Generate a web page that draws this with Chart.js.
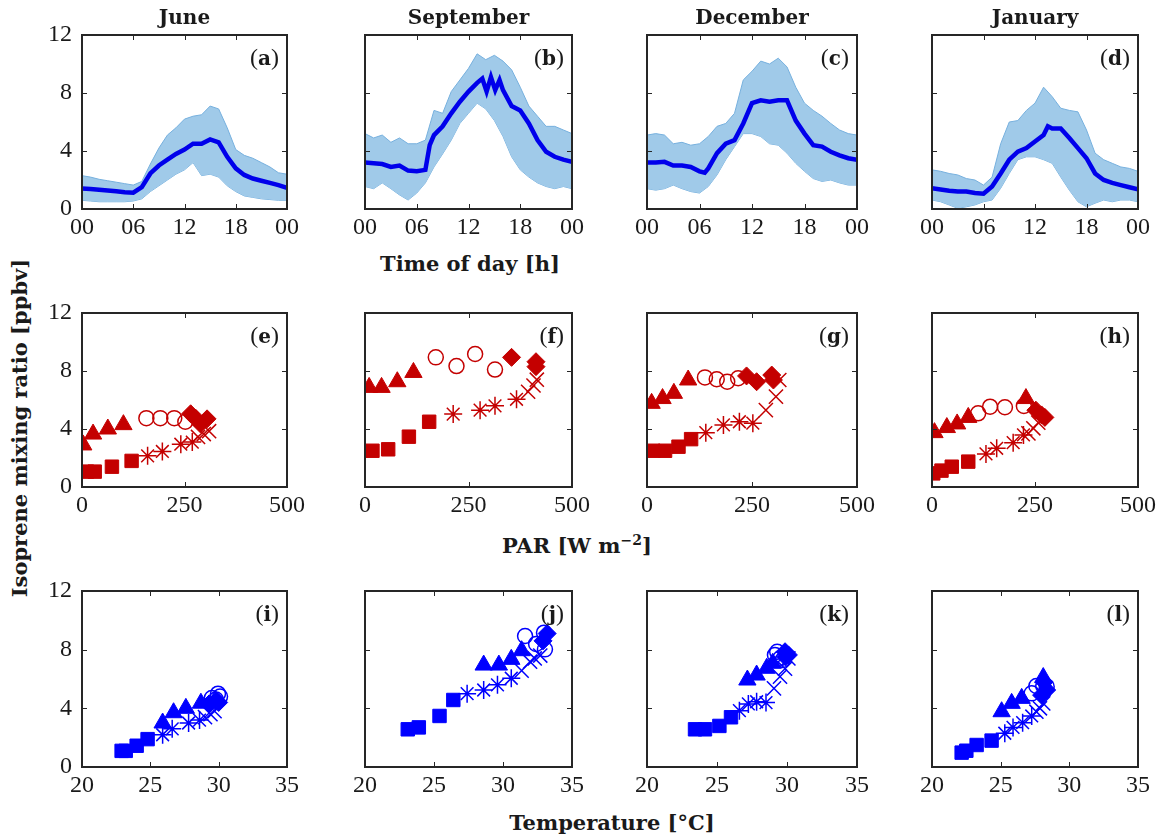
<!DOCTYPE html>
<html><head><meta charset="utf-8">
<script src="https://cdn.jsdelivr.net/npm/chart.js@4.4.0/dist/chart.umd.min.js"></script>
<style>
html,body{margin:0;padding:0;background:#fff;}
body{width:1166px;height:839px;position:relative;overflow:hidden;font-family:"Liberation Serif",serif;color:#1a1a1a;}
.pc{position:absolute;}
.t{position:absolute;white-space:nowrap;transform:translate(-50%,-50%);}
.bold{font-family:"DejaVu Serif",serif;font-weight:bold;font-size:20px;}
.big{font-size:21px;}
.lab{position:absolute;white-space:nowrap;font-size:24px;transform:translate(-100%,-50%);font-family:"Liberation Serif",serif;}
.lab b{font-family:"DejaVu Serif",serif;font-size:20px;}
.rot{transform:translate(-50%,-50%) rotate(-90deg);}
sup{font-size:14px;}
</style></head><body>
<script>
// ---------- tick values and labels ----------
const months = ['June','September','December','January'];
const panelLetters = ['a','b','c','d','e','f','g','h','i','j','k','l'];
const timeTicks = [0,6,12,18,24];
const timeTickLabels = ['00','06','12','18','00'];
const parTicks = [0,250,500];
const parTickLabels = ['0','250','500'];
const tempTicks = [20,25,30,35];
const tempTickLabels = ['20','25','30','35'];
const isoTicks = [0,4,8,12];
const isoTickLabels = ['0','4','8','12'];

// ---------- row 1: diurnal cycle (hours) ----------
const hours = [0,1,2,3,4,5,6,7,8,9,10,11,12,13,14,15,16,17,18,19,20,21,22,23,24];

const juneMeanHours = hours;
const juneMean  = [1.42,1.38,1.33,1.28,1.22,1.16,1.12,1.5,2.45,3.0,3.4,3.8,4.1,4.5,4.5,4.8,4.6,3.6,2.8,2.35,2.1,1.95,1.8,1.65,1.46];
const juneUpper = [2.3,2.2,2.05,1.95,1.85,1.75,1.65,1.9,3.1,4.2,5.1,5.6,6.2,6.4,6.5,7.1,6.9,5.6,4.1,3.7,3.5,3.2,2.9,2.5,2.4];
const juneLower = [0.6,0.55,0.5,0.5,0.5,0.5,0.55,0.7,1.2,1.6,2.0,2.4,2.7,3.2,2.3,2.4,2.2,1.6,1.2,0.9,0.8,0.7,0.65,0.6,0.6];

const sepMeanHours = [0,1,2,3,4,5,6,7,7.5,8,9,10,11,12,13,13.6,14.1,14.6,15.1,15.6,16,17,18,19,20,21,22,23,24];
const sepMean  = [3.2,3.15,3.1,2.9,3.0,2.65,2.6,2.7,4.4,5.1,5.7,6.6,7.4,8.1,8.7,9.0,8.1,9.1,8.2,8.9,8.2,7.1,6.8,5.9,4.75,3.95,3.6,3.4,3.26];
const sepUpper = [5.2,4.9,5.1,4.6,4.9,4.5,4.5,4.75,6.8,6.6,8.1,8.9,9.7,10.7,10.3,10.6,10.2,9.6,8.4,7.1,6.4,5.7,5.7,5.45,5.2];
const sepLower = [1.55,1.4,1.8,1.4,0.97,0.62,1.1,1.8,2.9,3.8,4.75,5.9,6.6,7.3,6.9,6.1,5.0,3.6,2.7,2.2,1.8,1.55,1.4,1.55,1.4];

const decMeanHours = [0,1,2,3,4,5,6,6.6,7,8,9,10,11,12,13,14,15,16,17,18,19,20,21,22,23,24];
const decMean  = [3.2,3.2,3.25,3.0,3.0,2.9,2.6,2.5,2.8,3.85,4.5,4.75,5.9,7.3,7.5,7.4,7.5,7.5,6.1,5.2,4.4,4.3,3.95,3.7,3.5,3.4];
const decUpper = [5.1,5.2,5.1,4.5,4.6,4.4,4.5,5.0,5.7,5.9,6.6,8.9,9.5,10.2,10.0,10.4,9.8,8.4,7.3,6.8,6.4,5.9,5.45,5.2,5.1];
const decLower = [1.4,1.3,1.4,1.65,1.4,1.2,1.1,1.55,2.35,3.4,4.3,5.2,5.2,5.0,4.5,4.4,3.85,3.15,2.6,2.1,1.9,2.0,1.8,1.65,1.65];

const janMeanHours = [0,1,2,3,4,5,6,7,8,9,10,11,12,13,13.5,14,15,16,17,18,19,20,21,22,23,24];
const janMean  = [1.43,1.35,1.26,1.2,1.2,1.1,1.05,1.55,2.45,3.4,3.95,4.2,4.65,5.1,5.7,5.55,5.55,4.9,4.2,3.5,2.45,2.0,1.8,1.65,1.5,1.36];
const janUpper = [2.7,2.6,2.45,2.35,2.1,2.0,1.65,2.2,4.5,6.0,6.1,6.8,7.3,8.4,7.75,6.95,6.8,6.7,5.45,3.85,3.4,3.15,2.9,2.8,2.6];
const janLower = [0.62,0.5,0.28,0.05,0.15,0.28,0.5,0.62,1.43,2.45,3.4,3.6,3.6,3.4,3.15,2.2,1.3,0.5,0.15,0.4,0.62,0.5,0.62,0.62,0.5];

// ---------- row 2: PAR vs isoprene, [PAR, ppbv] ----------
const juneParSquares   = [[12,1.06],[31,1.06],[73,1.4],[121,1.8]];
const juneParAsterisks = [[160,2.15],[196,2.45],[241,2.95],[269,3.1]];
const juneParCrosses   = [[283,3.45],[297,3.65],[310,3.85]];
const juneParDiamonds  = [[265,5.05],[277,4.75],[305,4.7],[289,4.35]];
const juneParCircles   = [[157,4.75],[191,4.75],[225,4.75],[252,4.5]];
const juneParTriangles = [[3,2.9],[27,3.65],[63,4.0],[101,4.3]];

const sepParSquares   = [[18,2.5],[56,2.6],[106,3.47],[155,4.5]];
const sepParAsterisks = [[213,5.03],[278,5.3],[314,5.6],[366,6.05]];
const sepParCrosses   = [[394,6.57],[407,7.0],[415,7.4]];
const sepParDiamonds  = [[354,8.94],[413,8.64],[413,8.3]];
const sepParCircles   = [[171,8.94],[221,8.34],[266,9.17],[314,8.1]];
const sepParTriangles = [[10,6.87],[40,6.87],[78,7.26],[117,7.9]];

const decParSquares   = [[15,2.5],[43,2.5],[75,2.78],[105,3.3]];
const decParAsterisks = [[140,3.75],[182,4.28],[220,4.5],[252,4.4]];
const decParCrosses   = [[283,5.3],[307,6.23],[315,7.38]];
const decParDiamonds  = [[237,7.66],[261,7.26],[297,7.72],[301,7.38]];
const decParCircles   = [[138,7.56],[166,7.43],[191,7.26],[217,7.5]];
const decParTriangles = [[11,5.77],[37,6.1],[64,6.46],[98,7.38]];

const janParSquares   = [[3,0.94],[23,1.13],[48,1.4],[88,1.75]];
const janParAsterisks = [[131,2.28],[157,2.67],[197,3.06],[222,3.59]];
const janParCrosses   = [[234,3.7],[246,4.05],[258,4.44]];
const janParDiamonds  = [[252,5.3],[266,4.97],[274,4.8]];
const janParCircles   = [[112,5.08],[141,5.54],[177,5.5],[223,5.59]];
const janParTriangles = [[6,3.75],[36,4.1],[61,4.35],[88,4.8],[228,6.1]];

// ---------- row 3: temperature vs isoprene, [degC, ppbv] ----------
const juneTSquares   = [[22.9,1.1],[23.2,1.1],[24.0,1.45],[24.8,1.9]];
const juneTAsterisks = [[25.9,2.2],[26.6,2.6],[27.8,3.0],[28.6,3.2]];
const juneTCrosses   = [[29.0,3.4],[29.4,3.6],[29.7,3.8]];
const juneTDiamonds  = [[29.3,4.3],[29.8,4.5],[30.0,4.4]];
const juneTCircles   = [[29.5,4.7],[30.1,4.8],[29.95,5.0],[29.8,4.6]];
const juneTTriangles = [[25.9,3.0],[26.7,3.7],[27.6,4.0],[28.7,4.35]];

const sepTSquares   = [[23.1,2.57],[23.9,2.7],[25.4,3.48],[26.4,4.57]];
const sepTAsterisks = [[27.4,5.0],[28.6,5.25],[29.6,5.6],[30.6,6.05]];
const sepTCrosses   = [[31.35,6.57],[31.96,7.18],[32.3,7.4],[32.7,7.6]];
const sepTDiamonds  = [[33.2,9.1],[32.9,8.6]];
const sepTCircles   = [[31.6,8.93],[32.4,8.39],[32.97,9.16],[33.04,8.02]];
const sepTTriangles = [[28.6,6.95],[29.7,6.95],[30.6,7.34],[31.35,7.93]];

const decTSquares   = [[23.43,2.57],[24.14,2.57],[25.17,2.8],[26.0,3.39]];
const decTAsterisks = [[26.6,3.84],[27.24,4.3],[27.83,4.45],[28.5,4.39]];
const decTCrosses   = [[29.07,5.36],[29.5,6.16],[29.86,6.7],[30.1,7.4]];
const decTDiamonds  = [[29.86,7.86],[30.1,7.64],[29.9,7.5]];
const decTCircles   = [[29.14,7.64],[29.5,7.4],[29.7,7.3],[29.3,7.86]];
const decTTriangles = [[27.17,5.93],[27.83,6.27],[28.55,6.73],[28.98,7.07]];

const janTSquares   = [[22.16,0.98],[22.5,1.11],[23.25,1.5],[24.34,1.8]];
const janTAsterisks = [[25.3,2.3],[25.9,2.7],[26.6,3.02],[27.26,3.48]];
const janTCrosses   = [[27.6,3.77],[27.86,4.0],[28.1,4.34]];
const janTDiamonds  = [[28.16,5.8],[28.35,5.25],[27.98,4.9]];
const janTCircles   = [[27.26,5.02],[27.6,5.52],[28.1,5.52],[28.35,5.48]];
const janTTriangles = [[25.07,3.77],[25.8,4.34],[26.53,4.68],[28.1,6.1]];

// ---------- layout ----------
const colL = [82,365,647,932], colR = [287,572,857,1138];
const rowT = [35,313,591], rowB = [209,487,767];
const PADL = 50, PADT = 16, PADR = 24, PADB = 38;

const RED = 'rgb(196,0,0)', BLUE = 'rgb(0,0,255)';

const framePlugin = {
  id: 'frame',
  afterDatasetsDraw(chart, args, opts) {
    const {ctx, chartArea: a, scales: {x, y}} = chart;
    ctx.save();
    ctx.strokeStyle = '#262626';
    ctx.lineWidth = 1;
    ctx.beginPath();
    const tl = 5;
    for (const v of opts.xt) { const p = Math.round(x.getPixelForValue(v)) + 0.5;
      ctx.moveTo(p, a.bottom); ctx.lineTo(p, a.bottom - tl); ctx.moveTo(p, a.top); ctx.lineTo(p, a.top + tl); }
    for (const v of opts.yt) { const p = Math.round(y.getPixelForValue(v)) + 0.5;
      ctx.moveTo(a.left, p); ctx.lineTo(a.left + tl, p); ctx.moveTo(a.right, p); ctx.lineTo(a.right - tl, p); }
    ctx.stroke();
    ctx.lineWidth = 2;
    ctx.strokeRect(a.left, a.top, a.width, a.height);
    ctx.restore();
  }
};

function toPts(xs, ys) { return xs.map((x, i) => ({x: x, y: ys[i]})); }
function pairPts(arr) { return arr.map(p => ({x: p[0], y: p[1]})); }

function addText(html, x, y, cls) {
  const d = document.createElement('div');
  d.className = cls; d.innerHTML = html;
  d.style.left = x + 'px'; d.style.top = y + 'px';
  document.body.appendChild(d);
}

function makeChart(r, c, type, datasets, xmin, xmax, xt, xl) {
  const L = colL[c], R = colR[c], T = rowT[r], B = rowB[r];
  const w = R - L + PADL + PADR, h = B - T + PADT + PADB;
  const cv = document.createElement('canvas');
  cv.className = 'pc';
  cv.width = w; cv.height = h;
  cv.style.left = (L - PADL) + 'px'; cv.style.top = (T - PADT) + 'px';
  cv.style.width = w + 'px'; cv.style.height = h + 'px';
  document.body.appendChild(cv);
  const font = {family: '"Liberation Serif", serif', size: 24};
  new Chart(cv, {
    type: type,
    data: {datasets: datasets},
    options: {
      responsive: false, animation: false, devicePixelRatio: 1,
      layout: {padding: {left: 0, top: PADT, right: PADR, bottom: 0}},
      plugins: {legend: {display: false}, tooltip: {enabled: false}, frame: {xt: xt, yt: isoTicks}},
      scales: {
        x: {type: 'linear', min: xmin, max: xmax,
          afterBuildTicks(s) { s.ticks = xt.map(v => ({value: v})); },
          afterFit(s) { s.height = PADB; s.paddingLeft = 0; s.paddingRight = 0; },
          grid: {display: false, drawTicks: false}, border: {display: false},
          ticks: {color: '#1a1a1a', font: font, padding: 4, maxRotation: 0, autoSkip: false,
            callback: (v, i) => xl[i]}},
        y: {type: 'linear', min: 0, max: 12,
          afterBuildTicks(s) { s.ticks = isoTicks.map(v => ({value: v})); },
          afterFit(s) { s.width = PADL; s.paddingTop = 0; s.paddingBottom = 0; },
          grid: {display: false, drawTicks: false}, border: {display: false},
          ticks: {display: c === 0, color: '#1a1a1a', font: font, padding: 10, autoSkip: false,
            callback: (v, i) => isoTickLabels[i]}}
      }
    },
    plugins: [framePlugin]
  });
}

// Row 1
const diurnal = [
  [juneMeanHours, juneMean, juneUpper, juneLower],
  [sepMeanHours, sepMean, sepUpper, sepLower],
  [decMeanHours, decMean, decUpper, decLower],
  [janMeanHours, janMean, janUpper, janLower]
];
diurnal.forEach((d, c) => {
  const ds = [
    {data: toPts(d[0], d[1]), borderColor: 'rgb(0,0,235)', borderWidth: 4.5, pointRadius: 0, fill: false, tension: 0},
    {data: toPts(hours, d[2]), borderColor: 'rgb(118,176,222)', borderWidth: 1, pointRadius: 0, fill: '+1', backgroundColor: 'rgb(160,202,233)', tension: 0},
    {data: toPts(hours, d[3]), borderColor: 'rgb(118,176,222)', borderWidth: 1, pointRadius: 0, fill: false, tension: 0}
  ];
  makeChart(0, c, 'line', ds, 0, 24, timeTicks, timeTickLabels);
});

// Marker kinds (first listed is drawn on top)
function scatterSets(col, sq, ast, cr, dia, cir, tri) {
  const mk = (data, style, r, filled, bw) => ({
    data: pairPts(data), pointStyle: style, pointRadius: r, pointHoverRadius: r,
    pointBackgroundColor: filled ? col : 'rgba(0,0,0,0)', pointBorderColor: col,
    pointBorderWidth: bw, showLine: false
  });
  return [
    mk(dia, 'rectRot', 9, true, 1),
    mk(cir, 'circle', 7.5, false, 1.5),
    mk(tri, 'triangle', 10, true, 1),
    mk(cr, 'crossRot', 10, false, 1.5),
    mk(ast, 'star', 9, false, 1.5),
    mk(sq, 'rect', 9.5, true, 1)
  ];
}

const parSets = [
  [juneParSquares, juneParAsterisks, juneParCrosses, juneParDiamonds, juneParCircles, juneParTriangles],
  [sepParSquares, sepParAsterisks, sepParCrosses, sepParDiamonds, sepParCircles, sepParTriangles],
  [decParSquares, decParAsterisks, decParCrosses, decParDiamonds, decParCircles, decParTriangles],
  [janParSquares, janParAsterisks, janParCrosses, janParDiamonds, janParCircles, janParTriangles]
];
parSets.forEach((s, c) => makeChart(1, c, 'scatter', scatterSets(RED, ...s), 0, 500, parTicks, parTickLabels));

const tSets = [
  [juneTSquares, juneTAsterisks, juneTCrosses, juneTDiamonds, juneTCircles, juneTTriangles],
  [sepTSquares, sepTAsterisks, sepTCrosses, sepTDiamonds, sepTCircles, sepTTriangles],
  [decTSquares, decTAsterisks, decTCrosses, decTDiamonds, decTCircles, decTTriangles],
  [janTSquares, janTAsterisks, janTCrosses, janTDiamonds, janTCircles, janTTriangles]
];
tSets.forEach((s, c) => makeChart(2, c, 'scatter', scatterSets(BLUE, ...s), 20, 35, tempTicks, tempTickLabels));

// Texts
months.forEach((m, c) => addText(m, (colL[c] + colR[c]) / 2, 17, 't bold'));
panelLetters.forEach((l, i) => {
  const r = Math.floor(i / 4), c = i % 4;
  addText('(<b>' + l + '</b>)', colR[c] - 8, rowT[r] + 22, 'lab');
});
addText('Time of day [h]', 470, 263, 't bold big');
addText('PAR [W m<sup>&minus;2</sup>]', 577, 545, 't bold big');
addText('Temperature [&deg;C]', 612, 822, 't bold big');
addText('Isoprene mixing ratio [ppbv]', 19, 428, 't bold big rot');
</script>
</body></html>
